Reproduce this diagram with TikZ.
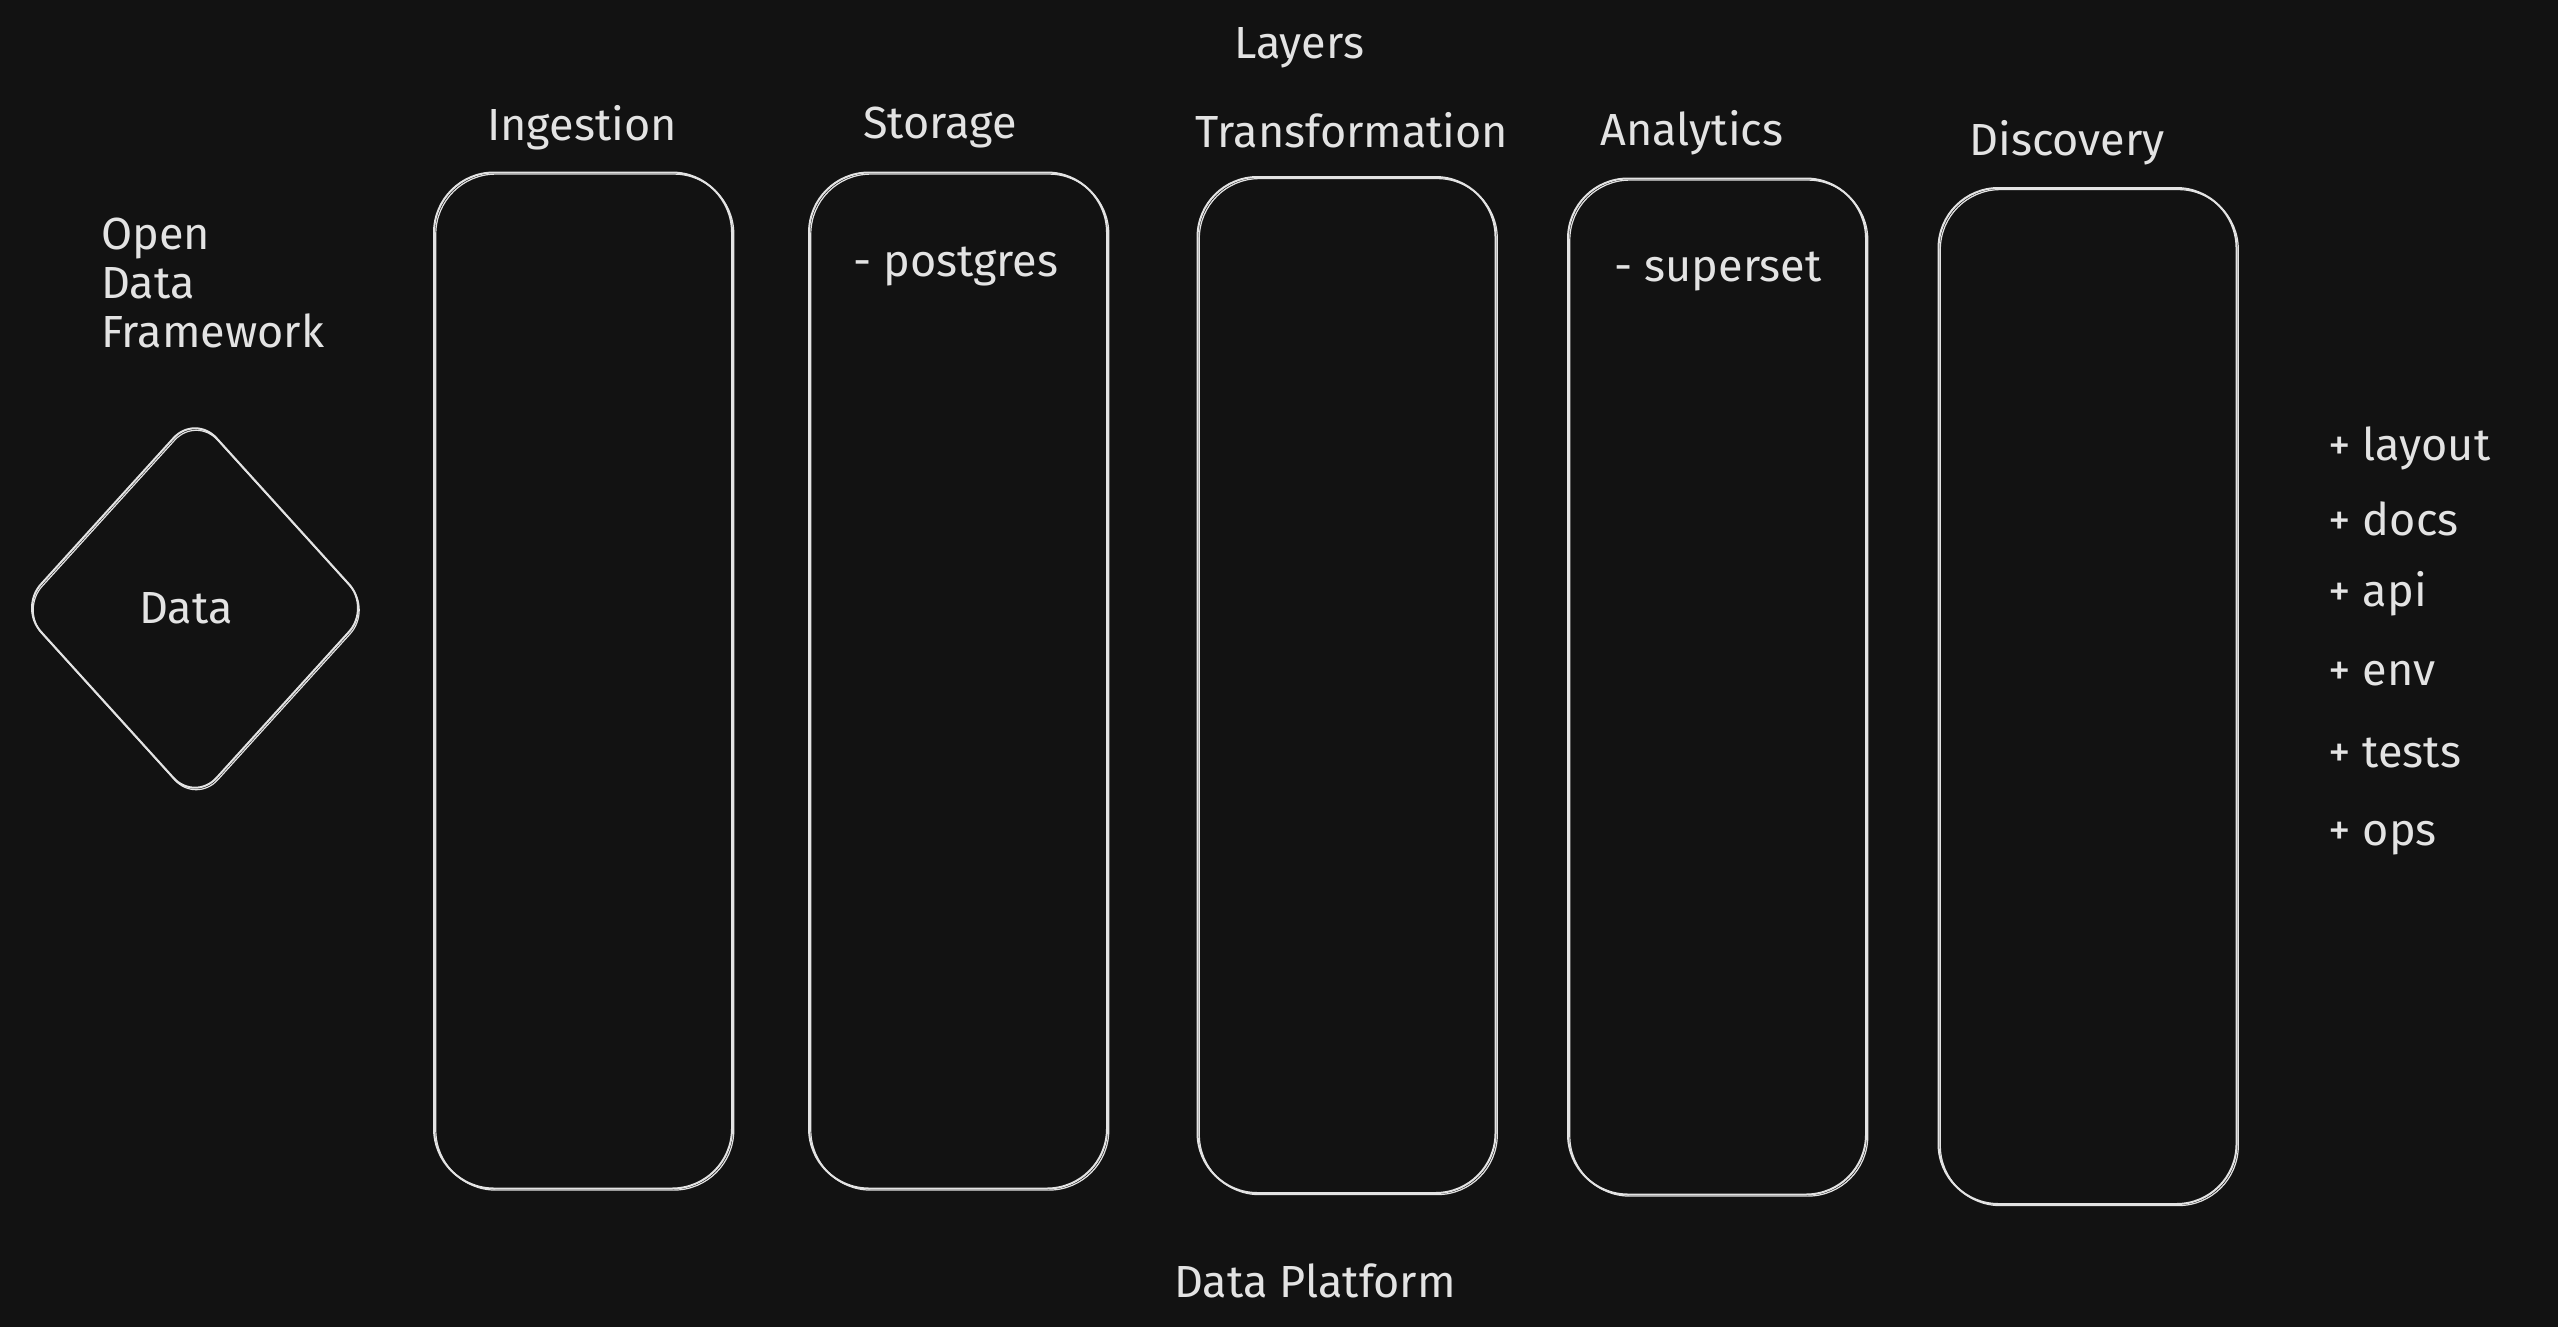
\documentclass[tikz,border=0pt]{standalone}
\usepackage{fontspec}
\setmainfont{Fira Sans}
\usetikzlibrary{shapes.geometric}
\definecolor{bg}{HTML}{121212}
\definecolor{ink}{HTML}{E3E3E3}
\begin{document}
\begin{tikzpicture}[x=0.5pt,y=-0.5pt,
  lbl/.style={text=ink, inner sep=0pt, font=\fontsize{22.5}{24.5}\selectfont},
  layerbox/.style={draw=ink, line width=1pt, rounded corners=30pt,
    minimum width=149pt, minimum height=508pt, inner sep=0pt,
    preaction={draw=ink, line width=0.6pt, transform canvas={xshift=0.9pt, yshift=-0.8pt}}},
  datashape/.style={diamond, draw=ink, line width=1pt, rounded corners=16pt,
    minimum width=176pt, minimum height=194pt, inner sep=0pt, text=ink,
    font=\fontsize{22.5}{24.5}\selectfont,
    preaction={draw=ink, line width=0.6pt, transform canvas={xshift=0.6pt, yshift=-1pt}}}
]
\fill[bg] (0,0) rectangle (2558,1327);
\useasboundingbox (0,0) rectangle (2558,1327);

% layer boxes
\node[layerbox] (ingestion) at (583,680.5) {};
\node[layerbox] (storage) at (958,680.5) {};
\node[layerbox] (transformation) at (1346.5,685) {};
\node[layerbox] (analytics) at (1717,686.5) {};
\node[layerbox] (discovery) at (2087.5,696) {};

% data diamond
\node[datashape] (data) at (195,608) {\hspace*{-9pt}Data};

% titles
\node[lbl] (layers) at (1299,48) {Layers};
\node[lbl] (tingestion) at (582,128) {Ingestion};
\node[lbl] (tstorage) at (940,128) {Storage};
\node[lbl] (ttransformation) at (1352,130) {Transformation};
\node[lbl] (tanalytics) at (1692,133) {Analytics};
\node[lbl] (tdiscovery) at (2067,143) {Discovery};

\node[lbl, align=left, anchor=west] (odf) at (101,283) {Open\\Data\\Framework};

\node[lbl] (postgres) at (956,267) {- postgres};
\node[lbl] (superset) at (1718,272) {- superset};

\node[lbl, anchor=west] (layout) at (2328,448) {+ layout};
\node[lbl, anchor=west] (docs) at (2328,519) {+ docs};
\node[lbl, anchor=west] (api) at (2328,594) {+ api};
\node[lbl, anchor=west] (env) at (2328,674) {+ env};
\node[lbl, anchor=west] (tests) at (2328,753) {+ tests};
\node[lbl, anchor=west] (ops) at (2328,838) {+ ops};

\node[lbl] (platform) at (1315,1281) {Data Platform};
\end{tikzpicture}
\end{document}
